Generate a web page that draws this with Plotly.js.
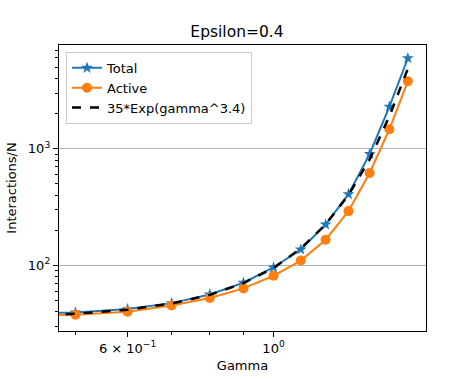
<!DOCTYPE html>
<html>
<head>
<meta charset="utf-8">
<script src="https://cdn.plot.ly/plotly-3.0.1.min.js"></script>
<style>body{margin:0;background:#fff}#plot{width:474px;height:379px}</style>
</head>
<body>
<div id="plot"></div>
<script>
// values
const gamma = [0.4, 0.5, 0.6, 0.7, 0.8, 0.9, 1.0, 1.1, 1.2, 1.3, 1.4, 1.5, 1.6];
const total = [38.5, 39.5, 42.2, 47.5, 56.4, 71, 96, 137, 224, 408, 901, 2290, 5960];
const active = [37.2, 37.7, 40.1, 45.4, 52.5, 63.5, 81.5, 110, 166, 292, 620, 1467, 3780];
const fit = [36.6, 38.5, 41.7, 47.1, 55.9, 70.4, 95.1, 139.5, 224.6, 401, 808, 1900, 4850];

const xTickVals = [0.6, 1];
const xTickText = ['6 \u00d7 10<sup>\u22121</sup>', '10<sup>0</sup>'];
const yTickVals = [100, 1000];
const yTickText = ['10<sup>2</sup>', '10<sup>3</sup>'];
const xMinor = [0.5, 0.7, 0.8, 0.9];
const yMinor = [30, 40, 50, 60, 70, 80, 90, 200, 300, 400, 500, 600, 700, 800, 900, 2000, 3000, 4000, 5000, 6000, 7000];

const font = {family: 'DejaVu Sans', size: 13, color: '#000'};

const traces = [
    {x: gamma, y: total, mode: 'lines+markers', name: 'Total',
     line: {color: '#1f77b4', width: 2}, marker: {symbol: 'star', size: 9, color: '#1f77b4'}},
    {x: gamma, y: active, mode: 'lines+markers', name: 'Active',
     line: {color: '#ff7f0e', width: 2}, marker: {symbol: 'circle', size: 10, color: '#ff7f0e'}},
    {x: gamma, y: fit, mode: 'lines', name: '35*Exp(gamma^3.4)',
     line: {color: '#000', width: 2.5, dash: 'dash'}}
];

const axisCommon = {
    type: 'log', showline: true, linecolor: '#000', linewidth: 1.2, mirror: true,
    ticks: 'outside', ticklen: 5, tickwidth: 1, tickcolor: '#000', zeroline: false,
    tickfont: font, tickmode: 'array'
};

const layout = {
    width: 474, height: 379,
    margin: {l: 59, r: 48, t: 45, b: 48},
    paper_bgcolor: '#fff', plot_bgcolor: '#fff',
    font: font,
    title: {text: 'Epsilon=0.4', font: {family: 'DejaVu Sans', size: 15.5, color: '#000'},
            x: 0.5, xanchor: 'center', y: 0.918, yanchor: 'middle'},
    xaxis: Object.assign({}, axisCommon, {
        range: [Math.log10(0.472), Math.log10(1.705)],
        tickvals: xTickVals, ticktext: xTickText, showgrid: false,
        minor: {tickmode: 'array', tickvals: xMinor, ticks: 'outside', ticklen: 3, tickcolor: '#000', showgrid: false},
        title: {text: 'Gamma', font: font, standoff: 6}
    }),
    yaxis: Object.assign({}, axisCommon, {
        range: [Math.log10(27.4), Math.log10(7740)],
        tickvals: yTickVals, ticktext: yTickText, showgrid: true, gridcolor: '#b0b0b0', gridwidth: 1,
        minor: {tickmode: 'array', tickvals: yMinor, ticks: 'outside', ticklen: 3, tickcolor: '#000', showgrid: false},
        title: {text: 'Interactions/N', font: font, standoff: 8}
    }),
    shapes: [
        // vertical grid line at gamma = 1 (log10(1) = 0)
        {type: 'line', xref: 'x', yref: 'paper', x0: 0, x1: 0, y0: 0, y1: 1,
         line: {color: '#b0b0b0', width: 1}, layer: 'below'}
    ],
    legend: {
        x: 0.019, y: 0.976, xanchor: 'left', yanchor: 'top',
        bgcolor: 'rgba(255,255,255,0.8)', bordercolor: '#cccccc', borderwidth: 1,
        font: font, tracegroupgap: 0, itemwidth: 30
    },
    showlegend: true
};

Plotly.newPlot('plot', traces, layout, {displayModeBar: false, staticPlot: true});
</script>
</body>
</html>
